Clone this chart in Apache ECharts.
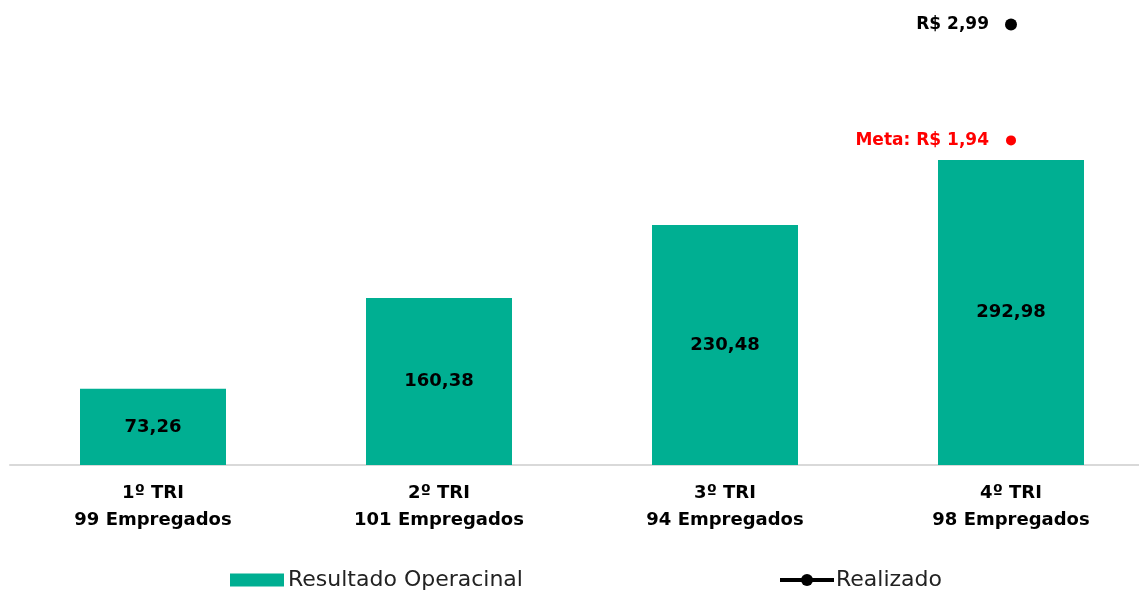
<!DOCTYPE html>
<html>
<head>
<meta charset="utf-8">
<script src="https://cdn.jsdelivr.net/npm/echarts@6/dist/echarts.min.js"></script>
<style>
  html, body { margin: 0; padding: 0; background: #fff; overflow: hidden; }
  /* o eixo passa da borda direita, por isso o container é mais largo */
  #chart { width: 1160px; height: 591px; }
</style>
</head>
<body>
<div id="chart"></div>
<script>
// dados
const trimestres = ["1º TRI", "2º TRI", "3º TRI", "4º TRI"];
const empregados = [99, 101, 94, 98];
const resultado = [73.26, 160.38, 230.48, 292.98];
const realizado = [null, null, null, 2.99];
const meta = [null, null, null, 1.94];

const fmt = (v) => v.toFixed(2).replace(".", ",");
const categorias = trimestres.map((t, i) => t + "\n" + empregados[i] + " Empregados");

const chart = echarts.init(document.getElementById("chart"));
const font = "DejaVu Sans";

const option = {
  animation: false,
  textStyle: { fontFamily: font },
  grid: { left: 10, width: 1144, top: 9, bottom: 126 },
  legend: [
    {
      left: 230, top: 569, padding: 0,
      itemWidth: 54, itemHeight: 13,
      data: [{ name: "Resultado Operacinal", icon: "rect" }],
      textStyle: { fontSize: 22, color: "#222", fontFamily: font, padding: [0, 0, 0, -1] }
    },
    {
      left: 778, top: 569, padding: 0,
      itemWidth: 54, itemHeight: 15,
      data: [{ name: "Realizado", lineStyle: { width: 4, color: "#000" } }],
      textStyle: { fontSize: 22, color: "#222", fontFamily: font, padding: [0, 0, 0, -3] }
    }
  ],
  xAxis: {
    type: "category",
    data: categorias,
    axisLine: { lineStyle: { color: "#d9d9d9", width: 2 } },
    axisTick: { show: false },
    axisLabel: {
      margin: 15,
      fontSize: 18,
      fontWeight: "bold",
      lineHeight: 27,
      color: "#000",
      fontFamily: font
    }
  },
  yAxis: [
    { type: "value", min: 0, max: 438, show: false, splitLine: { show: false } },
    { type: "value", min: -1, max: 3.13, show: false, splitLine: { show: false } }
  ],
  series: [
    {
      name: "Resultado Operacinal",
      type: "bar",
      barWidth: 146,
      data: resultado,
      itemStyle: { color: "#00af92" },
      label: {
        show: true,
        position: "inside",
        fontSize: 18,
        fontWeight: "bold",
        color: "#000",
        fontFamily: font,
        formatter: (p) => fmt(p.value)
      }
    },
    {
      name: "Realizado",
      type: "line",
      yAxisIndex: 1,
      data: realizado,
      symbol: "circle",
      symbolSize: 12,
      lineStyle: { color: "#000", width: 4 },
      itemStyle: { color: "#000" },
      label: {
        show: true,
        position: "left",
        distance: 16,
        fontSize: 17,
        fontWeight: "bold",
        color: "#000",
        fontFamily: font,
        formatter: (p) => "R$ " + fmt(p.value)
      }
    },
    {
      name: "Meta",
      type: "line",
      yAxisIndex: 1,
      data: meta,
      symbol: "circle",
      symbolSize: 10,
      lineStyle: { color: "#ff0000", width: 0 },
      itemStyle: { color: "#ff0000" },
      label: {
        show: true,
        position: "left",
        distance: 17,
        fontSize: 17,
        fontWeight: "bold",
        color: "#ff0000",
        fontFamily: font,
        formatter: (p) => "Meta: R$ " + fmt(p.value)
      }
    }
  ]
};

option && chart.setOption(option);
window.onresize = chart.resize;
</script>
</body>
</html>
